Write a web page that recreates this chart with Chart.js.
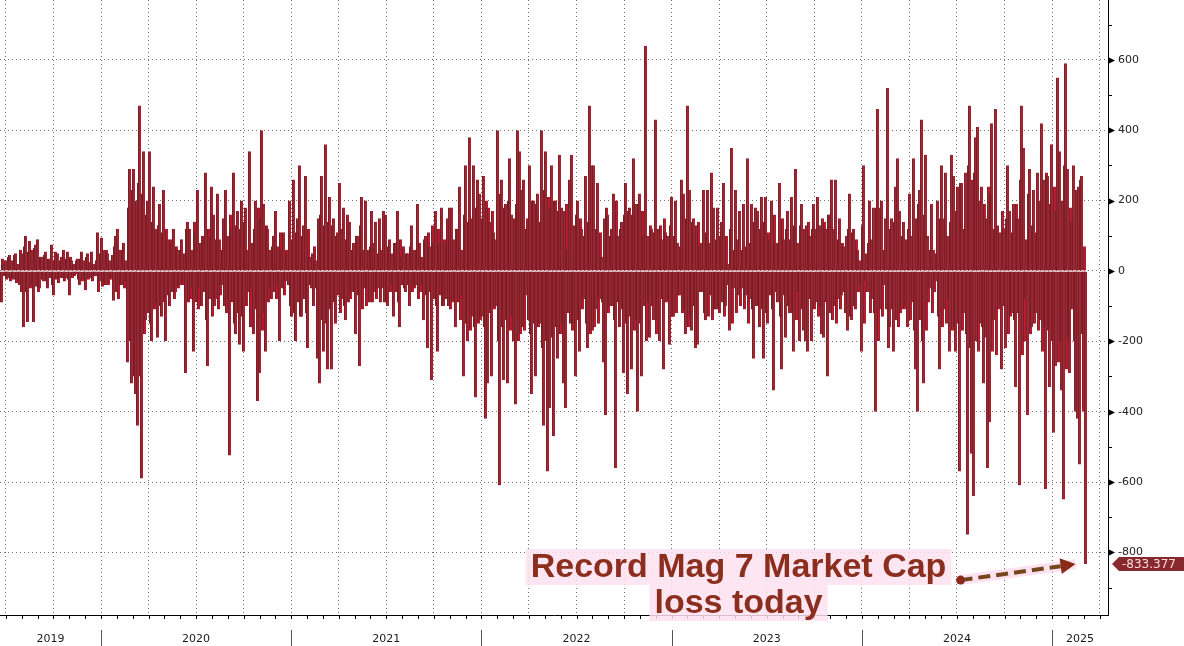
<!DOCTYPE html>
<html>
<head>
<meta charset="utf-8">
<script src="https://cdn.jsdelivr.net/npm/chart.js@4.4.1/dist/chart.umd.min.js"></script>
<style>
    html, body { margin: 0; padding: 0; background: #fff; }
    #wrap { width: 1184px; height: 646px; }
</style>
</head>
<body>
<div id="wrap"><canvas id="chart" width="1184" height="646"></canvas></div>
<script>
// Daily change in Mag 7 market cap ($bn).
// "spikes" = the tall bars every ~2px, "mass" = the dense bars between them
const jun19_mar20 = [-90, 20, 30, -20, 45, 30, -25, 50, 20, -40,
    -60, -160, 100, -145, 85, 60, -145, 75, 90, -50,
    40, -30, 55, -50, 30, 75, -70, 55, 50, -20,
    40, 60, -20, 55, -70, 30, 20, -10, 35, -40,
    55, 30, -55, 50, 25, 55, 20, -15, 110, -30,
    95, 60, -40, 50, 30, -20, -85, 100, 120, 60,
    -40, 80, 30, -260, 290, -320, 290, -350];
const jun19_mar20_mass = [35, -15, -25, 40, -30, -20, 45, -35, -25, 60,
    50, 70, -60, 55, -50, -40, 65, -45, -60, 40,
    -25, 45, -30, 35, -20, -40, 30, -25, -35, 30,
    -20, -30, 35, -25, 40, -20, -15, 30, -25, 35,
    -30, -20, 40, -25, -20, -30, -15, 30, -60, 50,
    -45, -35, 60, -40, -25, 45, 70, -60, -80, -40,
    60, -50, -30, 180, -200, 230, -300, 200];

const mar20_nov20 = [-440, 470, -590, 340, -140, 200, 340, -200, 240, 120,
    -190, 190, -130, 230, -200, 90, -100, 80, 120, -60,
    60, -40, 90, -30, -290, 140, 120, 60, -230, 110,
    230, -50, -100, 90, 280, -270, -80, 240, 160, -80,
    220, 90, -40, 150, 230, 100, -525, 120, 280, -180,
    170, -210, 200, -230, 180, 60, 340, -50, -180, 200,
    -370, -290, 400, 190, -230, 120, 60, -80];
const mar20_nov20_mass = [250, -300, 220, -180, 160, -120, -150, 140, -110, -90,
    130, -100, 110, -90, 120, -70, 90, -60, -80, 70,
    -50, 60, -40, 50, 120, -90, -80, -50, 140, -90,
    -110, 80, 100, -60, -140, 120, 100, -130, -100, 90,
    -110, -70, 60, -100, -120, -80, 160, -90, -150, 130,
    -120, 120, -130, 140, -100, -60, -160, 80, 120, -110,
    180, 150, -170, -120, 130, -90, -50, 70];

const nov20_aug21 = [100, 170, 70, -200, 60, 110, -30, 50, 200, -130,
    260, -200, 150, 300, -130, 130, 270, -220, 40, -50,
    -100, 30, -250, -320, 270, -230, 360, -280, 210, -280,
    150, -150, 110, 250, 120, 180, -140, 160, 140, -60,
    80, -180, 100, -270, 210, 60, 200, -50, -90, 170,
    80, 140, -50, 150, 60, 170, 160, -100, 90, 50,
    -130, 80, 170, -160, 40, 70, -60, 50];
const nov20_aug21_mass = [-60, -80, -40, 110, -50, -70, 60, -40, -100, 90,
    -120, 110, -90, -130, 100, -80, -120, 120, -40, 50,
    70, -50, 150, 160, -140, 130, -150, 140, -110, 130,
    -90, 100, -70, -120, -80, -100, 90, -90, -80, 60,
    -60, 100, -70, 130, -110, -50, -100, 60, 70, -90,
    -60, -80, 50, -90, -50, -90, -90, 70, -60, -40,
    80, -60, -90, 90, -40, -50, 50, -40];

const aug21_apr22 = [-100, 130, 60, -40, 190, 80, 40, -140, 100, -220,
    70, -310, 80, 170, -230, 80, 180, -100, -80, 150,
    180, 180, 90, -160, 120, 240, 60, -300, 300, -200,
    380, 150, 300, -360, 260, 220, -130, 270, -420, -320,
    140, -300, 110, 90, 400, -610, 260, -310, 190, -320,
    320, 160, -200, -380, 400, 340, 230, 260, -70, 150,
    300, -350, 200, -300, 220, -150, 400, -440];
const aug21_apr22_mass = [70, -60, -50, 60, -80, -60, -40, 90, -70, 110,
    -60, 130, -80, -100, 120, -70, -100, 90, 80, -100,
    -110, -90, -80, 120, -90, -140, -70, 160, -150, 140,
    -170, -130, -160, 180, -150, -140, 150, -160, 200, 180,
    -120, 170, -110, -100, -200, 220, -160, 180, -140, 200,
    -170, -130, 150, 190, -200, -180, -160, -170, 120, -140,
    -180, 200, -150, 190, -160, 140, -220, 230];

const apr22_jan23 = [340, -570, -390, 300, -470, 200, -250, 330, 180, -320,
    -390, 60, 260, 330, -150, -300, 200, -230, 120, -80,
    270, -220, 470, 300, 300, -110, 250, -80, 40, -260,
    -410, 160, -100, 120, 220, -560, 100, -160, 140, -290,
    250, -350, 180, -280, 320, 190, -400, 220, -300, 100,
    640, 100, -190, 120, -140, 430, -140, -200, 90, -280,
    110, 100, -210, 210, -130, 200, 80, -70];
const apr22_jan23_mass = [-200, 210, 180, -190, 200, -160, 170, -180, -150, 170,
    190, -120, -150, -170, 130, 160, -140, 150, -110, 100,
    -150, 140, -180, -170, -160, 120, -150, 110, -90, 150,
    180, -120, 100, -100, -140, 200, -90, 120, -110, 160,
    -150, 170, -130, 160, -170, -140, 190, -150, 170, -100,
    -200, -90, 130, -100, 110, -180, 120, 130, -80, 150,
    -90, -80, 130, -130, 100, -120, -70, 70];

const jan23_oct23 = [260, 220, -180, 470, 230, -170, 150, -220, -210, 70,
    80, 230, -140, 230, 80, 280, 180, -110, 180, -120,
    140, 250, -100, 20, -170, 350, -50, 230, 90, 170,
    -50, 190, -70, 320, -80, 190, -250, 180, 170, -160,
    210, -250, 210, -150, 90, 200, -340, 80, -90, 250,
    -280, 90, -190, 170, -120, 210, -230, 290, 80, -200,
    190, -170, -200, -230, 100, -200, 190, 120];
const jan23_oct23_mass = [-120, -110, 150, -160, -130, 140, -100, 130, 140, -60,
    -60, -120, 110, -130, -70, -140, -110, 90, -110, 100,
    -90, -130, 100, -40, 120, -150, 60, -120, -70, -100,
    60, -110, 70, -150, 80, -110, 140, -100, -100, 120,
    -110, 140, -120, 110, -70, -110, 160, -60, 80, -130,
    150, -70, 120, -100, 90, -120, 130, -140, -60, 130,
    -110, 120, 130, 140, -80, 120, -110, -90];

const oct23_jun24 = [210, 130, -180, -190, 120, -300, 160, 260, 120, 260,
    -80, 150, -70, 70, -120, -170, 220, -140, 120, -110,
    60, 30, -230, 300, -30, -60, 200, 90, 180, -400,
    460, 180, 200, -40, 150, 520, -160, 150, -230, 240,
    320, 170, -110, 140, -100, -160, 220, 100, 320, -280,
    -400, 230, 430, -320, 330, 100, -50, 190, 60, -30,
    200, -280, 300, 150, 280, 100, -230, 330];
const oct23_jun24_mass = [-130, -100, 150, 140, -90, 160, -120, -140, -100, -150,
    90, -110, 80, -60, 100, 120, -130, 110, -100, 90,
    -60, -40, 130, -150, 50, 80, -120, -80, -120, 180,
    -200, -110, -130, 60, -110, -220, 120, -110, 140, -140,
    -160, -120, 100, -110, 90, 120, -140, -90, -170, 150,
    190, -140, -200, 160, -170, -90, 60, -120, -60, 50,
    -130, 150, -160, -110, -150, -80, 140, -170];

const jun24_mar25 = [270, -230, 240, -570, 250, -120, 280, -750, 470, -520,
    -640, 380, 410, 200, 240, -320, -190, -560, -430, 420,
    -140, 460, 130, 110, -280, 120, -220, 300, 170, -120,
    190, -330, 150, -610, 470, 350, -80, -410, 290, -160,
    230, -120, 280, 200, 420, 260, -620, 270, -330, 360,
    -460, -270, 550, 340, -340, -650, 590, 290, -290, 140,
    300, -400, -420, -550, 270, -400, -833.377];
const jun24_mar25_mass = [-160, 170, -150, 250, -170, 120, -180, 300, -220, 260,
    280, -200, -230, -150, -160, 190, 150, 240, 220, -230,
    120, -240, -110, -100, 170, -100, 150, -180, -130, 110,
    -140, 190, -120, 260, -240, -200, 90, 220, -180, 130,
    -150, 110, -170, -140, -230, -160, 280, -170, 190, -200,
    240, 170, -260, -200, 200, 300, -280, -190, 180, -110,
    -200, 230, 240, 260, -180, 70];

const spikes = [].concat(jun19_mar20, mar20_nov20, nov20_aug21, aug21_apr22,
    apr22_jan23, jan23_oct23, oct23_jun24, jun24_mar25);
const mass = [].concat(jun19_mar20_mass, mar20_nov20_mass, nov20_aug21_mass, aug21_apr22_mass,
    apr22_jan23_mass, jan23_oct23_mass, oct23_jun24_mass, jun24_mar25_mass);
// one trading day after the other
const moves = spikes.flatMap((v, i) => i < mass.length ? [v, mass[i]] : [v]);

// time axis in fractional years
const xMin = 2019.469;
const xMax = 2025.294;
const barsPerYear = 190.21;
const firstBarYear = xMin + 1.5 / barsPerYear;
const years = [2019, 2020, 2021, 2022, 2023, 2024, 2025];

const yMin = -978;
const yMax = 770;
const yTicks = [-800, -600, -400, -200, 0, 200, 400, 600];

const lastLabel = '-833.377';
const noteLines = ['Record Mag 7 Market Cap', 'loss today'];

const quarterTicks = [];
years.forEach(yr => [0, 0.25, 0.5, 0.75].forEach(q => {
    const v = yr + q;
    if (v > xMin && v < xMax) quarterTicks.push(v);
}));

const points = moves.map((v, i) => ({ x: firstBarYear + i / barsPerYear, y: v }));
const lastX = points[points.length - 1].x;

// axis marks, last value tag and the note
const decor = {
    id: 'decor',
    afterDraw(chart) {
        const { ctx, chartArea: a, scales: { x, y } } = chart;
        ctx.save();

        // month ticks under the axis line
        ctx.strokeStyle = '#000';
        ctx.lineWidth = 1;
        years.forEach(yr => {
            for (let m = 0; m < 12; m++) {
                const v = yr + m / 12;
                if (v <= xMin || v >= xMax) continue;
                const px = Math.round(x.getPixelForValue(v)) + 0.5;
                ctx.beginPath();
                ctx.moveTo(px, a.bottom);
                ctx.lineTo(px, a.bottom + 4);
                ctx.stroke();
            }
        });

        // year separators and labels
        ctx.strokeStyle = '#555';
        ctx.fillStyle = '#1a1a1a';
        ctx.font = '11px "DejaVu Sans"';
        ctx.textAlign = 'center';
        ctx.textBaseline = 'middle';
        years.forEach(yr => {
            const lo = Math.max(yr, xMin);
            const hi = Math.min(yr + 1, xMax);
            if (yr > xMin) {
                const px = Math.round(x.getPixelForValue(yr)) + 0.5;
                ctx.beginPath();
                ctx.moveTo(px, a.bottom + 15);
                ctx.lineTo(px, chart.height);
                ctx.stroke();
            }
            ctx.fillText(String(yr), x.getPixelForValue((lo + hi) / 2), a.bottom + 24);
        });

        // right axis: triangles on major ticks, short marks on minor ones
        ctx.fillStyle = '#000';
        ctx.strokeStyle = '#000';
        for (let v = -900; v <= 700; v += 100) {
            const py = Math.round(y.getPixelForValue(v)) + 0.5;
            ctx.beginPath();
            if (v % 200 === 0) {
                ctx.moveTo(a.right, py - 3.5);
                ctx.lineTo(a.right + 7, py);
                ctx.lineTo(a.right, py + 3.5);
                ctx.closePath();
                ctx.fill();
            } else {
                ctx.moveTo(a.right, py);
                ctx.lineTo(a.right + 4, py);
                ctx.stroke();
            }
        }

        // last value tag
        const last = moves[moves.length - 1];
        const ly = y.getPixelForValue(last);
        ctx.fillStyle = '#862a2e';
        ctx.beginPath();
        ctx.moveTo(a.right + 4, ly);
        ctx.lineTo(a.right + 11, ly - 7);
        ctx.lineTo(chart.width, ly - 7);
        ctx.lineTo(chart.width, ly + 7);
        ctx.lineTo(a.right + 11, ly + 7);
        ctx.closePath();
        ctx.fill();
        ctx.fillStyle = '#ffd8de';
        ctx.font = '12px "DejaVu Sans"';
        ctx.textAlign = 'left';
        ctx.fillText(lastLabel, a.right + 14, ly + 0.5);

        // arrow to the last bar
        const tipX = x.getPixelForValue(lastX) - 10;
        const tipY = ly;
        const dotX = tipX - 115;
        const dotY = tipY + 16;
        const ang = Math.atan2(tipY - dotY, tipX - dotX);
        const baseX = tipX - 15 * Math.cos(ang);
        const baseY = tipY - 15 * Math.sin(ang);
        ctx.strokeStyle = 'rgba(253, 222, 238, 0.9)';
        ctx.lineWidth = 10;
        ctx.beginPath();
        ctx.moveTo(dotX, dotY);
        ctx.lineTo(tipX, tipY);
        ctx.stroke();
        ctx.setLineDash([12, 6]);
        ctx.strokeStyle = '#74461c';
        ctx.lineWidth = 4;
        ctx.beginPath();
        ctx.moveTo(dotX, dotY);
        ctx.lineTo(baseX, baseY);
        ctx.stroke();
        ctx.setLineDash([]);
        ctx.fillStyle = '#8a2a18';
        ctx.beginPath();
        ctx.moveTo(tipX, tipY);
        ctx.lineTo(baseX - 8 * Math.sin(ang), baseY + 8 * Math.cos(ang));
        ctx.lineTo(baseX + 8 * Math.sin(ang), baseY - 8 * Math.cos(ang));
        ctx.closePath();
        ctx.fill();
        ctx.beginPath();
        ctx.arc(dotX, dotY, 4.5, 0, Math.PI * 2);
        ctx.fill();

        // note text with its pink highlight
        ctx.font = 'bold 34px "Liberation Sans"';
        ctx.textAlign = 'center';
        ctx.textBaseline = 'alphabetic';
        const noteX = dotX - 222;
        const baselines = [577, 613];
        noteLines.forEach((t, i) => {
            const w = ctx.measureText(t).width;
            ctx.fillStyle = 'rgba(253, 224, 240, 0.85)';
            ctx.fillRect(noteX - w / 2 - 5, baselines[i] - 28, w + 10, 36);
            ctx.fillStyle = '#8b2e1e';
            ctx.fillText(t, noteX, baselines[i]);
        });

        ctx.restore();
    }
};

new Chart(document.getElementById('chart'), {
    type: 'bar',
    data: {
        datasets: [{
            data: points,
            backgroundColor: '#b41a2d',
            borderColor: '#622a2a',
            borderWidth: { left: 1, right: 0, top: 0, bottom: 0 },
            inflateAmount: 0,
            barPercentage: 3,
            categoryPercentage: 1
        }]
    },
    options: {
        responsive: false,
        animation: false,
        devicePixelRatio: 1,
        layout: { padding: 0 },
        plugins: {
            legend: { display: false },
            tooltip: { enabled: false }
        },
        scales: {
            x: {
                type: 'linear',
                offset: false,
                min: xMin,
                max: xMax,
                afterBuildTicks: s => { s.ticks = quarterTicks.map(v => ({ value: v })); },
                afterFit: s => { s.height = 31; },
                ticks: { display: false },
                grid: { color: '#707070', drawTicks: false, offset: false },
                border: { color: '#000', width: 1, dash: [1, 3] }
            },
            y: {
                position: 'right',
                min: yMin,
                max: yMax,
                afterBuildTicks: s => { s.ticks = yTicks.map(v => ({ value: v })); },
                afterFit: s => { s.width = 76; s.paddingTop = 0; s.paddingBottom = 0; },
                ticks: {
                    padding: 10,
                    color: '#222',
                    font: { family: 'DejaVu Sans', size: 11 },
                    callback: v => String(v)
                },
                grid: { color: '#707070', drawTicks: false },
                border: { color: '#000', width: 1, dash: [1, 3] }
            }
        }
    },
    plugins: [decor]
});
</script>
</body>
</html>
